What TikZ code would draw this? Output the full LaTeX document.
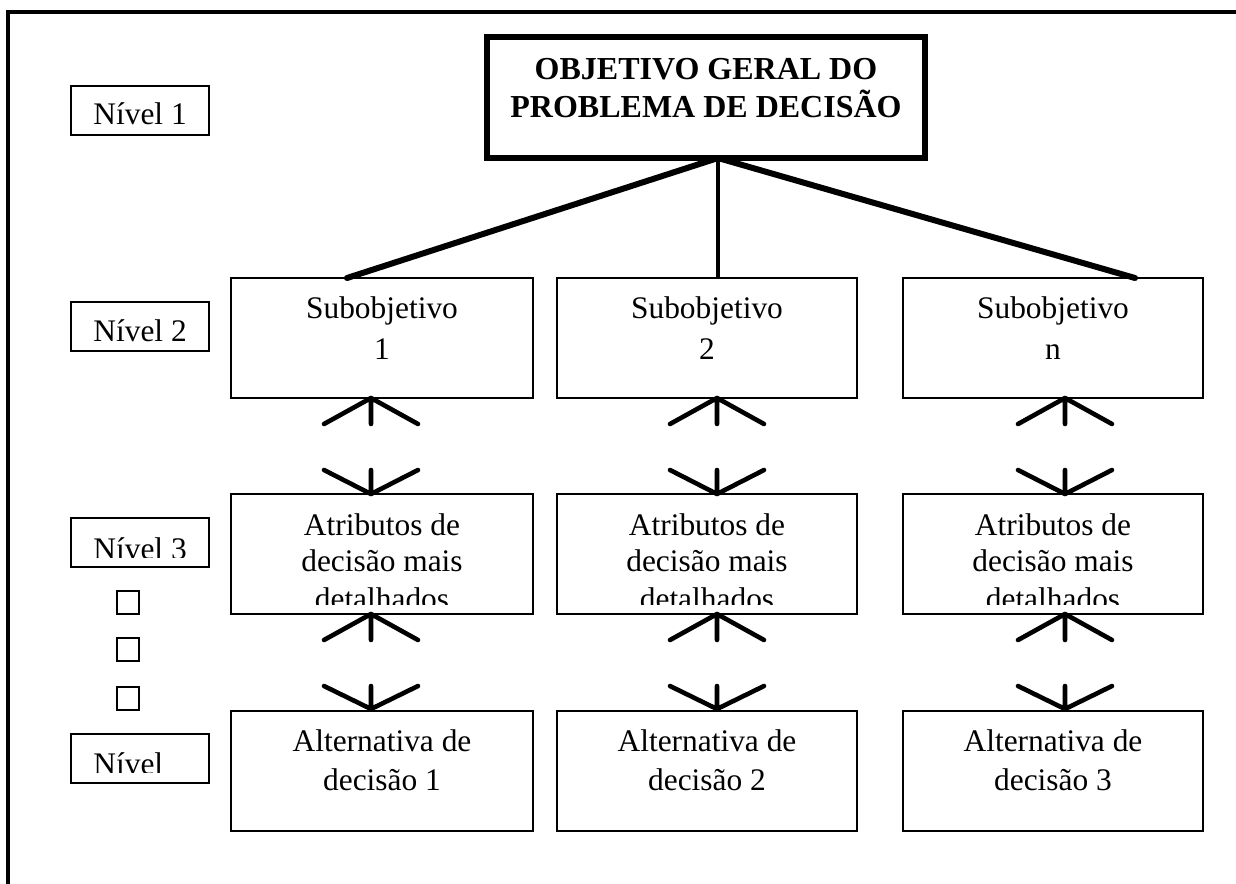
\documentclass[tikz,border=0pt]{standalone}
\usepackage{fontspec}
\setmainfont{Liberation Serif}
\usetikzlibrary{calc}
\begin{document}
\begin{tikzpicture}[x=0.5pt,y=-0.5pt,
  cell/.style={draw, line width=0.9pt, rectangle, inner sep=0pt, outer sep=0pt,
    anchor=north west, minimum width=150pt, minimum height=60pt},
  goalbox/.style={draw, line width=2.6pt, rectangle, inner sep=0pt, outer sep=0pt,
    anchor=north west, minimum width=219pt, minimum height=60.5pt},
  lvl/.style={draw, line width=0.9pt, rectangle, inner sep=0pt, outer sep=0pt,
    anchor=north west, minimum width=69pt, minimum height=24.5pt},
  sq/.style={draw, line width=0.8pt, rectangle, inner sep=0pt, outer sep=0pt,
    anchor=north west, minimum width=11pt, minimum height=11.5pt},
  txt/.style={anchor=base, inner sep=0pt, font=\fontsize{15.7}{19}\selectfont},
  lvltxt/.style={txt, anchor=base west},
  titletxt/.style={anchor=base, inner sep=0pt, font=\fontsize{16}{19}\selectfont\bfseries},
  link/.style={line width=3pt, line cap=round},
  stem/.style={line width=2.2pt},
  chev/.style={line width=2.3pt, line cap=round, line join=round},
  frame/.style={line width=1.7pt}
]
\useasboundingbox (0,0) rectangle (1236,883);

% outer frame (only the top and left sides fall inside the page)
\draw[frame] (8,900) -- (8,12) -- (1250,12);

% level labels
\node[lvl] (lv1) at (71,86) {};
\node[lvl] (lv2) at (71,302) {};
\node[lvl] (lv3) at (71,518) {};
\node[lvl] (lv4) at (71,734) {};
\node[lvltxt] (lv1t) at (93,125) {Nível 1};
\node[lvltxt] (lv2t) at (93,341) {Nível 2};
\begin{scope}
  \clip (60,500) rectangle (220,557);
  \node[lvltxt] (lv3t) at (93,559) {Nível 3};
\end{scope}
\begin{scope}
  \clip (60,720) rectangle (220,772);
  \node[lvltxt] (lv4t) at (93,774) {Nível};
\end{scope}

% ellipsis squares between the levels
\node[sq] (q1) at (117,591) {};
\node[sq] (q2) at (117,638) {};
\node[sq] (q3) at (117,687) {};

% general objective
\node[goalbox] (goal) at (487,37) {};
\node[titletxt] (g1) at (706,80) {OBJETIVO GERAL DO};
\node[titletxt] (g2) at (706,118) {PROBLEMA DE DECISÃO};

% boxes of the three columns
\node[cell, minimum width=151pt] (sub1) at (231,278) {};
\node[cell] (sub2) at (557,278) {};
\node[cell] (sub3) at (903,278) {};
\node[cell, minimum width=151pt] (att1) at (231,494) {};
\node[cell] (att2) at (557,494) {};
\node[cell] (att3) at (903,494) {};
\node[cell, minimum width=151pt] (alt1) at (231,711) {};
\node[cell] (alt2) at (557,711) {};
\node[cell] (alt3) at (903,711) {};

% texts of the boxes
\node[txt] (s1a) at (382,318) {Subobjetivo};
\node[txt] (s1b) at (382,359) {1};
\node[txt] (s2a) at (707,318) {Subobjetivo};
\node[txt] (s2b) at (707,359) {2};
\node[txt] (s3a) at (1053,318) {Subobjetivo};
\node[txt] (s3b) at (1053,359) {n};

\node[txt] (a1a) at (382,535) {Atributos de};
\node[txt] (a1b) at (382,571) {decisão mais};
\node[txt] (a2a) at (707,535) {Atributos de};
\node[txt] (a2b) at (707,571) {decisão mais};
\node[txt] (a3a) at (1053,535) {Atributos de};
\node[txt] (a3b) at (1053,571) {decisão mais};
\begin{scope}
  \clip (220,560) rectangle (1220,604);
  \node[txt] (a1c) at (382,609) {detalhados};
  \node[txt] (a2c) at (707,609) {detalhados};
  \node[txt] (a3c) at (1053,609) {detalhados};
\end{scope}

\node[txt] (t1a) at (382,751) {Alternativa de};
\node[txt] (t1b) at (382,790) {decisão 1};
\node[txt] (t2a) at (707,751) {Alternativa de};
\node[txt] (t2b) at (707,790) {decisão 2};
\node[txt] (t3a) at (1053,751) {Alternativa de};
\node[txt] (t3b) at (1053,790) {decisão 3};

% links from the general objective to the subobjectives
\coordinate (apex) at ($(goal.south west)+(231,0)$);
\coordinate (e1) at ($(sub1.north west)+(116,0)$);
\coordinate (e2) at ($(sub2.north west)+(161,0)$);
\coordinate (e3) at ($(sub3.north west)+(232,0)$);
\draw[link] (apex) -- (e1);
\draw[stem] (apex) -- (e2);
\draw[link] (apex) -- (e3);

% open two-way arrows between the rows
\foreach \i/\off in {1/140,2/160,3/162}{
  \coordinate (u\i) at ($(sub\i.south west)+(\off,0)$);
  \coordinate (d\i) at ($(att\i.north west)+(\off,0)$);
  \coordinate (uu\i) at ($(att\i.south west)+(\off,0)$);
  \coordinate (dd\i) at ($(alt\i.north west)+(\off,-2)$);
  \draw[chev] ($(u\i)+(-47,26)$) -- (u\i) -- ($(u\i)+(47,26)$)
              (u\i) -- ($(u\i)+(0,26)$);
  \draw[chev] ($(d\i)+(-47,-24)$) -- (d\i) -- ($(d\i)+(47,-24)$)
              (d\i) -- ($(d\i)+(0,-24)$);
  \draw[chev] ($(uu\i)+(-47,26)$) -- (uu\i) -- ($(uu\i)+(47,26)$)
              (uu\i) -- ($(uu\i)+(0,26)$);
  \draw[chev] ($(dd\i)+(-47,-23)$) -- (dd\i) -- ($(dd\i)+(47,-23)$)
              (dd\i) -- ($(dd\i)+(0,-23)$);
}
\end{tikzpicture}
\end{document}
